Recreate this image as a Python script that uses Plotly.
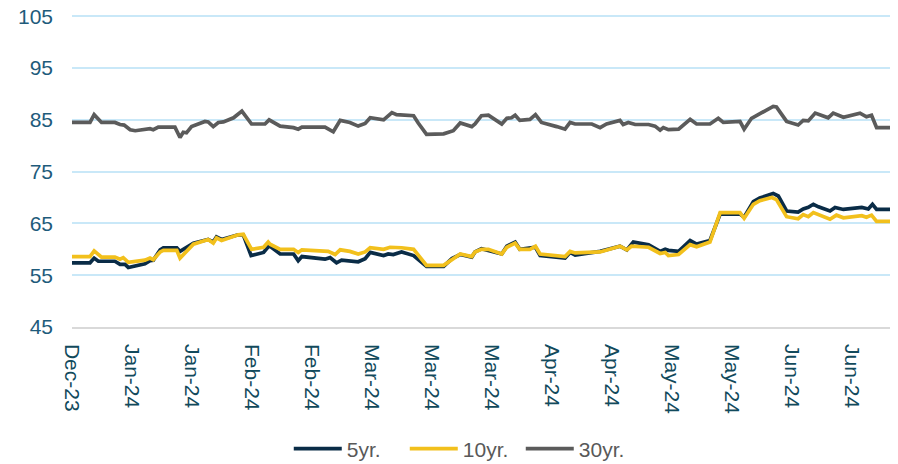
import pandas as pd
import plotly.graph_objects as go

start = pd.Timestamp("2023-12-29")

# day offsets from start and yields
days_5yr = [0, 3.9, 4.8, 5.7, 9.3, 10.4, 11.5, 12.2, 15.8, 16.9, 17.6, 19.1, 19.8, 22.7, 23.4, 26.3,
            29.5, 30.6, 31.3, 32.4, 36.0, 37.1, 38.8, 41.5, 42.5, 42.9, 45.1, 48.0, 49.0, 49.8, 54.8,
            55.9, 57.3, 58.4, 62.0, 63.5, 64.6, 67.5, 68.5, 69.6, 71.4, 74.0, 76.8, 80.5, 82.3, 84.1,
            86.6, 87.3, 88.7, 93.1, 94.2, 96.0, 97.0, 100.4, 101.4, 106.8, 107.9, 109.0, 114.4, 118.7,
            120.2, 121.6, 124.9, 127.4, 128.5, 129.2, 131.4, 133.9, 135.3, 138.2, 140.4, 144.7, 145.6,
            147.6, 149.0, 151.9, 153.0, 154.8, 157.3, 158.4, 159.5, 160.6, 161.7, 164.2, 165.3, 167.1,
            171.1, 172.5, 173.4, 174.3, 177.2]
yr5 = [57.4, 57.4, 58.3, 57.7, 57.7, 57.1, 57.1, 56.5, 57.2, 57.8, 57.9, 59.9, 60.3, 60.3, 59.6, 61.2,
       61.9, 61.4, 62.4, 61.9, 62.8, 62.8, 58.8, 59.4, 60.5, 60.6, 59.1, 59.1, 57.8, 58.6, 58.1,
       58.4, 57.4, 57.9, 57.6, 58.2, 59.4, 58.8, 59.1, 59.0, 59.5, 58.8, 56.7, 56.7, 58.2, 59.0,
       58.5, 59.5, 60.1, 59.1, 60.6, 61.4, 60.0, 60.4, 58.8, 58.3, 59.4, 58.9, 59.6, 60.6,
       59.9, 61.4, 60.9, 59.6, 60.0, 59.8, 59.6, 61.7, 61.0, 61.7, 66.8, 66.8, 66.2,
       69.2, 69.9, 70.8, 70.3, 67.4, 67.2, 67.8, 68.1, 68.7, 68.2, 67.4, 68.1, 67.7,
       68.1, 67.8, 68.7, 67.7, 67.7]

days_10yr = [0, 3.9, 4.8, 6.4, 9.3, 10.4, 11.1, 12.2, 15.8, 16.9, 17.6, 19.1, 19.8, 22.7, 23.4, 26.3,
             29.5, 30.6, 31.3, 32.4, 36.0, 37.1, 38.9, 41.5, 42.5, 42.9, 45.1, 48.0, 49.0, 49.8, 55.5,
             57.0, 58.1, 60.2, 62.0, 63.5, 64.6, 67.5, 68.9, 71.4, 74.0, 76.8, 80.5, 82.3, 84.1, 86.6,
             87.3, 88.7, 90.2, 93.1, 94.2, 96.0, 97.0, 99.2, 100.4, 101.4, 106.8, 107.9, 109.0, 114.4,
             116.5, 118.7, 120.2, 121.2, 124.9, 127.4, 128.5, 129.2, 131.4, 133.9, 135.3, 138.2,
             140.4, 144.7, 145.6, 147.6, 149.0, 151.6, 152.6, 154.8, 157.3, 158.4, 159.5, 160.6,
             164.2, 165.6, 167.1, 171.1, 172.1, 173.2, 174.3, 177.2]
yr10 = [58.6, 58.6, 59.7, 58.5, 58.5, 58.1, 58.4, 57.5, 57.9, 58.3, 58.0, 59.5, 59.8, 59.8, 58.3, 61.0,
        61.9, 61.2, 62.2, 61.7, 62.8, 62.9, 60.0, 60.4, 61.4, 61.0, 60.0, 60.0, 59.4, 59.9, 59.6,
        59.0, 59.9, 59.6, 59.1, 59.5, 60.3, 60.0, 60.4, 60.3, 60.0, 56.9, 56.9, 58.0, 59.1, 58.6,
        59.5, 60.0, 60.0, 59.1, 60.4, 61.2, 60.0, 60.0, 60.6, 59.1, 58.6, 59.6, 59.3, 59.5,
        60.1, 60.6, 59.9, 60.6, 60.4, 59.2, 59.4, 58.8, 59.0, 60.9, 60.5, 61.4,
        67.1, 67.1, 66.0, 68.7, 69.4, 70.0, 69.6, 66.3, 65.9, 66.7, 66.3, 67.1,
        65.8, 66.6, 66.1, 66.5, 66.2, 66.6, 65.4, 65.4]

days_30yr = [0, 3.9, 4.8, 6.4, 9.3, 10.4, 11.3, 12.6, 13.7, 16.2, 16.9, 17.6, 18.7, 22.3, 23.4, 24.1,
             24.8, 25.9, 28.8, 29.5, 30.6, 31.7, 32.8, 35.0, 36.8, 38.9, 41.8, 42.7, 45.1, 48.0, 49.0,
             49.8, 54.8, 56.6, 58.1, 60.2, 62.0, 63.5, 64.6, 67.5, 69.3, 70.3, 74.0, 75.0, 76.8, 80.5,
             82.6, 84.1, 86.6, 87.3, 88.7, 90.2, 93.1, 94.2, 95.2, 96.0, 97.0, 99.2, 100.4, 101.7,
             103.2, 105.0, 106.8, 107.9, 109.0, 112.6, 114.4, 115.8, 118.7, 119.4, 120.5, 122.0,
             124.9, 126.3, 127.4, 128.1, 129.2, 131.4, 133.9, 135.3, 138.2, 140.0, 141.1, 144.7,
             145.6, 147.2, 151.9, 152.6, 154.8, 157.3, 158.4, 159.5, 161.0, 163.8, 164.9, 167.1,
             170.7, 172.1, 173.2, 174.3, 177.2]
yr30 = [84.5, 84.5, 86.0, 84.5, 84.5, 84.1, 84.0, 83.1, 82.9, 83.1, 83.3, 83.1, 83.6, 83.6, 81.6, 82.6,
        82.5, 83.7, 84.7, 84.6, 83.7, 84.5, 84.6, 85.4, 86.7, 84.2, 84.2, 85.0, 83.8, 83.5, 83.2,
        83.6, 83.6, 82.7, 84.9, 84.5, 83.8, 84.3, 85.4, 85.0, 86.4, 86.0, 85.8, 84.4, 82.2, 82.3,
        82.9, 84.4, 83.7, 84.2, 85.8, 85.9, 84.2, 85.3, 85.4, 85.9, 84.9, 85.1, 86.0, 84.5,
        84.2, 83.7, 83.2, 84.5, 84.2, 84.2, 83.5, 84.2, 84.9, 84.1, 84.5, 84.1,
        84.1, 83.8, 83.0, 83.5, 83.1, 83.2, 85.1, 84.2, 84.2, 85.3, 84.5, 84.7,
        83.2, 85.3, 87.6, 87.5, 84.7, 84.0, 84.9, 84.8, 86.3, 85.4, 86.3, 85.5,
        86.3, 85.6, 85.9, 83.5, 83.5]

series = [
    ("5yr.", days_5yr, yr5, "#0A2C47"),
    ("10yr.", days_10yr, yr10, "#F2C01C"),
    ("30yr.", days_30yr, yr30, "#5B5B5B"),
]

FONT = "Liberation Sans, Arial, sans-serif"

fig = go.Figure()
for name, d, v, c in series:
    x = start + pd.to_timedelta(d, unit="D")
    fig.add_trace(go.Scatter(x=x, y=v, mode="lines", name=name,
                             line=dict(color=c, width=3.7)))

x_end = start + pd.to_timedelta(177.2, unit="D")
# the page body adds an 8px offset, so the figure is sized to fit the window
fig.update_layout(
    width=890, height=456,
    margin=dict(l=64, r=8, t=7, b=137),
    paper_bgcolor="white", plot_bgcolor="white",
    font=dict(family=FONT, size=21),
    showlegend=True,
    legend=dict(orientation="h", x=0.265, xanchor="left",
                yref="container", y=0.033, yanchor="middle",
                font=dict(size=21, color="#595959", family=FONT),
                itemwidth=48, entrywidth=53, entrywidthmode="pixels",
                bgcolor="rgba(0,0,0,0)"),
)
fig.update_xaxes(
    type="date", range=[start, x_end],
    tick0=start, dtick=13 * 86400000, tickformat="%b-%y",
    tickangle=90, tickfont=dict(size=21, color="#124A5C", family=FONT),
    showgrid=False, showline=True, linecolor="#D9D9D9", linewidth=1.5,
    ticks="", ticklabelstandoff=11, automargin=False, ticklabeloverflow="allow",
)
fig.update_yaxes(
    range=[45, 105.25], tick0=45, dtick=10,
    tickfont=dict(size=21, color="#1E5B7B", family=FONT),
    showgrid=True, gridcolor="#C9E8F8", gridwidth=1.5,
    zeroline=False, ticks="", ticklabelstandoff=18, automargin=False,
    ticklabeloverflow="allow",
)

fig.write_html("out.html")
